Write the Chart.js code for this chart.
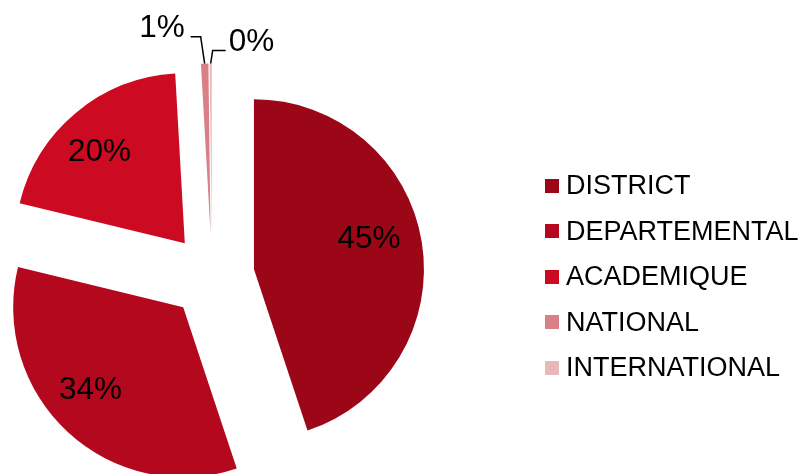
<!DOCTYPE html>
<html>
<head>
<meta charset="utf-8">
<script src="https://cdn.jsdelivr.net/npm/chart.js@4/dist/chart.umd.min.js"></script>
<style>
  body { margin: 0; background: #fff; }
  #zone { position: relative; width: 803px; height: 474px; overflow: hidden; }
  #graphique { position: absolute; left: 0; top: 0; }
  #legende { position: absolute; left: 545px; top: 163px; font-family: "Liberation Sans", Arial, sans-serif; font-size: 27px; color: #000; }
  .ligne { height: 45.5px; display: flex; align-items: center; white-space: nowrap; }
  .carre { width: 14px; height: 14px; margin-right: 7px; }
</style>
</head>
<body>
<div id="zone">
  <canvas id="graphique" width="803" height="474"></canvas>
  <div id="legende"></div>
</div>
<script>
// donnees
var categories = ["DISTRICT", "DEPARTEMENTAL", "ACADEMIQUE", "NATIONAL", "INTERNATIONAL"];
var pourcentages = [44.9, 33.9, 20.3, 0.7, 0.2];
var couleurs = ["#9b0717", "#b3081e", "#cc0b22", "#d98086", "#e8b8b9"];

var ECART = 42.5;   // eclatement des parts
var RAYON = 170;
var POLICE = '31.5px "Liberation Sans", Arial, sans-serif';
// petits ajustements des etiquettes internes (px)
var decalages = [[-4, -11], [-11, -6], [-8, 2]];

// legende html
for (var i = 0; i < categories.length; i++) {
  legende.innerHTML += '<div class="ligne"><div class="carre" style="background:' + couleurs[i] + '"></div>' + categories[i] + '</div>';
}

function pointArc(arc, dist) {
  var mid = (arc.startAngle + arc.endAngle) / 2;
  return {
    x: arc.x + Math.cos(mid) * (ECART + dist),
    y: arc.y + Math.sin(mid) * (ECART + dist)
  };
}

var pluginEclate = {
  id: "eclate",
  beforeDatasetDraw: function(chart, args) {
    var ctx = chart.ctx;
    args.meta.data.forEach(function(arc) {
      var mid = (arc.startAngle + arc.endAngle) / 2;
      ctx.save();
      ctx.translate(Math.cos(mid) * ECART, Math.sin(mid) * ECART);
      arc.draw(ctx);
      ctx.restore();
    });
    return false;
  },
  afterDatasetsDraw: function(chart) {
    var ctx = chart.ctx;
    var arcs = chart.getDatasetMeta(0).data;
    var total = 0;
    for (var i = 0; i < pourcentages.length; i++) total += pourcentages[i];

    ctx.save();
    ctx.font = POLICE;
    ctx.fillStyle = "#000";
    ctx.strokeStyle = "#000";
    ctx.lineWidth = 1.5;
    ctx.textBaseline = "middle";

    arcs.forEach(function(arc, i) {
      var texte = Math.round(pourcentages[i] / total * 100) + "%";
      if (pourcentages[i] / total >= 0.02) {
        var p = pointArc(arc, arc.outerRadius * 0.71);
        var d = decalages[i] || [0, 0];
        ctx.textAlign = "center";
        ctx.fillText(texte, p.x + d[0], p.y + d[1]);
        return;
      }
      // petites parts : etiquette exterieure avec trait
      var b = pointArc(arc, arc.outerRadius);
      ctx.beginPath();
      ctx.moveTo(b.x, b.y);
      if (i == 3) {
        ctx.lineTo(b.x - 4, b.y - 27);
        ctx.lineTo(b.x - 14, b.y - 27);
        ctx.stroke();
        ctx.textAlign = "right";
        ctx.fillText(texte, b.x - 20, b.y - 35);
      } else {
        ctx.lineTo(b.x + 2, b.y - 13);
        ctx.lineTo(b.x + 15, b.y - 13);
        ctx.stroke();
        ctx.textAlign = "left";
        ctx.fillText(texte, b.x + 18, b.y - 21);
      }
    });
    ctx.restore();
  }
};

var chartCamembert = new Chart(graphique.getContext("2d"), {
  type: "pie",
  data: {
    labels: categories,
    datasets: [{
      data: pourcentages,
      backgroundColor: couleurs,
      borderWidth: 0
    }]
  },
  options: {
    responsive: false,
    animation: false,
    radius: RAYON,
    layout: { padding: { left: 0, top: 78, right: 379, bottom: 0 } },
    plugins: {
      legend: { display: false },
      tooltip: { enabled: false }
    }
  },
  plugins: [pluginEclate]
});
</script>
</body>
</html>
